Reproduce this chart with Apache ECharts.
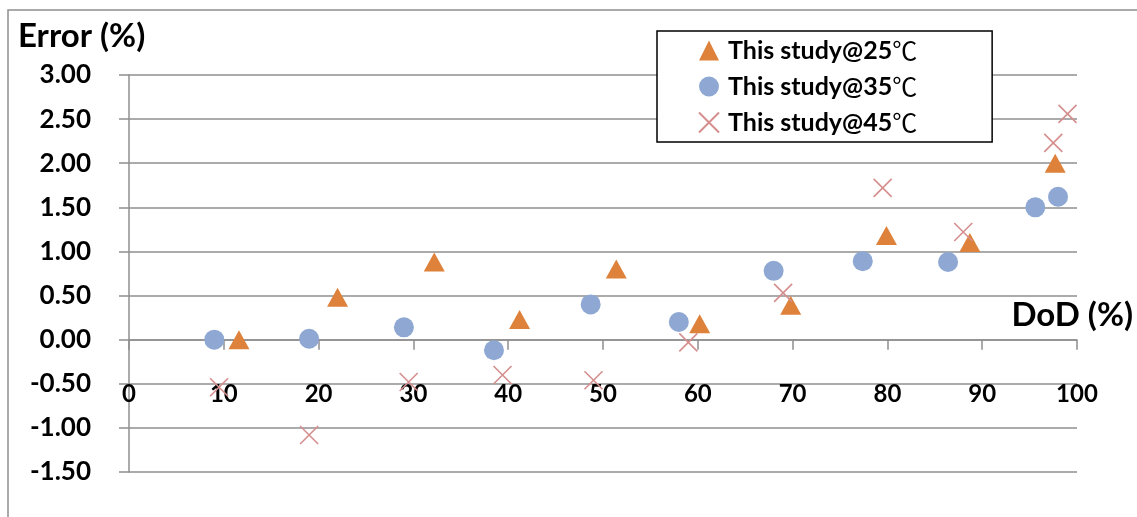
<!DOCTYPE html>
<html>
<head>
<meta charset="utf-8">
<script src="https://cdn.jsdelivr.net/npm/echarts@6/dist/echarts.min.js"></script>
<style>
  html, body { margin: 0; padding: 0; background: #fff; }
  #chart { width: 1137px; height: 517px; }
</style>
</head>
<body>
<div id="chart"></div>
<script>
// DoD (%) positions and error (%) values for each test temperature
const dod25 = [11.6, 22.0, 32.2, 41.2, 51.4, 60.2, 69.8, 79.9, 88.7, 97.7];
const err25 = [0.00, 0.48, 0.88, 0.23, 0.80, 0.18, 0.39, 1.18, 1.10, 2.00];

const dod35 = [9.0, 19.0, 29.0, 38.5, 48.7, 58.0, 68.0, 77.4, 86.4, 95.6, 98.0];
const err35 = [0.00, 0.01, 0.14, -0.12, 0.40, 0.20, 0.78, 0.89, 0.88, 1.50, 1.62];

const dod45 = [9.5, 19.0, 29.5, 39.4, 49.0, 59.0, 69.0, 79.5, 88.0, 97.5, 99.0];
const err45 = [-0.54, -1.08, -0.48, -0.40, -0.46, -0.03, 0.53, 1.72, 1.22, 2.23, 2.56];

const seriesNames = ['This study@25℃', 'This study@35℃', 'This study@45℃'];
const axisTitleY = 'Error (%)';
const axisTitleX = 'DoD (%)';

const yMin = -1.5, yMax = 3, yStep = 0.5;

const pairs = (xs, ys) => xs.map((x, i) => [x, ys[i]]);

const gray = '#8f8f8f';
const font = 'Lato, "Liberation Sans", sans-serif';

const gridTop = 75, gridBottom = 45, chartH = 517;
// shift the horizontal axis up so it crosses the vertical axis at 0
const plotH = chartH - gridTop - gridBottom;
const zeroShift = -plotH * (0 - yMin) / (yMax - yMin);

const chart = echarts.init(document.getElementById('chart'));
chart.setOption({
  animation: false,
  backgroundColor: '#ffffff',
  grid: { left: 129, right: 60, top: gridTop, bottom: gridBottom, containLabel: false, outerBoundsMode: 'none' },
  xAxis: {
    type: 'value',
    position: 'bottom',
    offset: zeroShift,
    min: 0, max: 100, interval: 10,
    axisLine: { show: true, onZero: false, lineStyle: { color: gray, width: 1.5 } },
    axisTick: { show: true, length: 10, lineStyle: { color: gray, width: 1.5 } },
    splitLine: { show: false },
    axisLabel: {
      margin: 43,
      color: '#000', fontFamily: font, fontWeight: 'bold', fontSize: 24
    }
  },
  yAxis: {
    type: 'value',
    min: yMin, max: yMax, interval: yStep,
    axisLine: { show: true, onZero: false, lineStyle: { color: gray, width: 1.5 } },
    axisTick: { show: true, length: 10, lineStyle: { color: gray, width: 1.5 } },
    splitLine: { show: true, lineStyle: { color: gray, width: 1.5 } },
    axisLabel: {
      margin: 38,
      color: '#000', fontFamily: font, fontWeight: 'bold', fontSize: 26,
      formatter: v => v.toFixed(2)
    }
  },
  legend: {
    orient: 'vertical',
    left: 657, top: 31,
    data: seriesNames,
    backgroundColor: '#ffffff',
    borderColor: '#000000',
    borderWidth: 1.5,
    borderRadius: 0,
    padding: [7, 75, 7, 41],
    itemWidth: 20, itemHeight: 20,
    itemGap: 11,
    formatter: name => {
      const i = name.indexOf('℃');
      return '{b|' + name.slice(0, i) + '}{c|℃}';
    },
    textStyle: {
      padding: [0, 0, 0, 4],
      rich: {
        b: { fontFamily: font, fontWeight: 'bold', fontSize: 25, color: '#000' },
        c: { fontFamily: '"Noto Sans CJK JP", sans-serif', fontWeight: 'normal', fontSize: 25, color: '#000' }
      }
    }
  },
  graphic: [
    {
      type: 'rect', z: -10, silent: true,
      shape: { x: 8, y: 10, width: 1200, height: 600 },
      style: { fill: 'none', stroke: gray, lineWidth: 1.5 }
    },
    {
      type: 'text', left: 18, top: 20,
      style: { text: axisTitleY, font: 'bold 33px ' + font, fill: '#000' }
    },
    {
      type: 'text', right: 4, top: 299,
      style: { text: axisTitleX, font: 'bold 33px ' + font, fill: '#000' }
    }
  ],
  series: [
    {
      name: seriesNames[0], type: 'scatter',
      symbol: 'triangle', symbolSize: [21, 19],
      itemStyle: { color: '#DE813A', opacity: 1 },
      data: pairs(dod25, err25), z: 3
    },
    {
      name: seriesNames[1], type: 'scatter',
      symbol: 'circle', symbolSize: 20,
      itemStyle: { color: '#8EA8D3', opacity: 1 },
      data: pairs(dod35, err35), z: 2
    },
    {
      name: seriesNames[2], type: 'scatter',
      symbol: 'path://M0,0L10,10M10,0L0,10', symbolSize: 18,
      itemStyle: { color: 'rgba(0,0,0,0)', borderColor: '#D58E8E', borderWidth: 1.6, opacity: 1 },
      data: pairs(dod45, err45), z: 4
    }
  ]
});
</script>
</body>
</html>
